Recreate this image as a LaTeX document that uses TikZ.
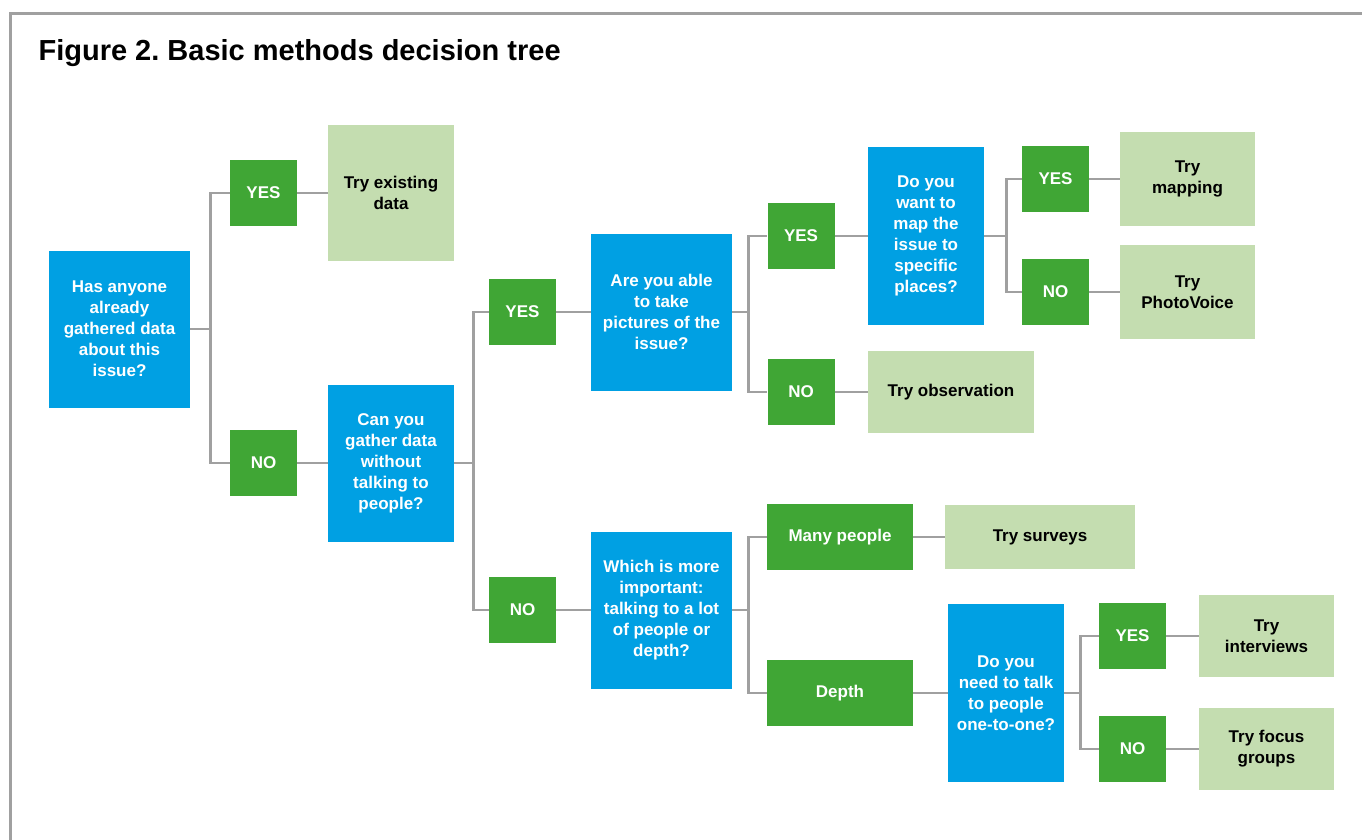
\documentclass[tikz,border=0pt]{standalone}
\usepackage{fontspec}
\setmainfont{Liberation Sans}
\usetikzlibrary{calc}
\frenchspacing

\definecolor{qblue}{RGB}{0,160,227}
\definecolor{ansgreen}{RGB}{64,166,53}
\definecolor{trygreen}{RGB}{196,221,176}
\definecolor{linkgray}{RGB}{160,160,160}

\begin{document}
\begin{tikzpicture}[x=1pt,y=-1pt,
  box/.style={inner sep=0pt,align=center,font=\fontsize{17}{21}\selectfont\bfseries},
  quest/.style={box,fill=qblue,text=white,minimum height=157pt},
  ans/.style={box,fill=ansgreen,text=white,minimum width=67pt,minimum height=66pt},
  try/.style={box,fill=trygreen,text=black},
  link/.style={draw=linkgray,line width=2.6pt},
  frame/.style={draw=linkgray,line width=3pt}]
\useasboundingbox (0,0) rectangle (1362,840);
\draw[frame] (10.5,840) |- (1362,13.5);
\node[anchor=base west,font=\fontsize{29}{35}\selectfont\bfseries] (title) at (35,61) {Figure 2. Basic methods decision tree};

% first question
\node[quest,minimum width=141pt] (has) at (119.5,329) {Has anyone\\already\\gathered data\\about this\\issue?};
\node[ans] (yes1) at (263.5,193) {YES};
\node[ans] (no1) at (263.5,463) {NO};
\node[try,minimum width=126pt,minimum height=135pt] (existing) at (391,193) {Try existing\\data};
\node[quest,minimum width=126pt] (can) at (391,463) {Can you\\gather data\\without\\talking to\\people?};

% second level
\node[ans] (yes2) at (522.5,312) {YES};
\node[ans] (no2) at (522.5,610) {NO};
\node[quest,minimum width=141pt] (pics) at (661.5,312) {Are you able\\to take\\pictures of the\\issue?};
\node[quest,minimum width=141pt] (which) at (661.5,610) {Which is more\\important:\\talking to a lot\\of people or\\depth?};

% pictures branch
\node[ans] (yes3) at (801,236) {YES};
\node[ans] (no3) at (801,392) {NO};
\node[quest,minimum width=116pt,minimum height=178pt] (map) at (926,236) {Do you\\want to\\map the\\issue to\\specific\\places?};
\node[try,minimum width=166pt,minimum height=82pt] (observation) at (951,392) {Try observation};
\node[ans] (yes4) at (1055.5,179) {YES};
\node[ans] (no4) at (1055.5,292) {NO};
\node[try,minimum width=135pt,minimum height=94pt] (mapping) at (1187.5,179) {Try\\mapping};
\node[try,minimum width=135pt,minimum height=94pt] (photovoice) at (1187.5,292) {Try\\PhotoVoice};

% people branch
\node[ans,minimum width=146pt] (many) at (840,537) {Many people};
\node[ans,minimum width=146pt] (depth) at (840,693) {Depth};
\node[try,minimum width=190pt,minimum height=64pt] (surveys) at (1040,537) {Try surveys};
\node[quest,minimum width=116pt,minimum height=178pt] (talk) at (1006,693) {Do you\\need to talk\\to people\\one-to-one?};
\node[ans] (yes5) at (1132.5,636) {YES};
\node[ans] (no5) at (1132.5,749) {NO};
\node[try,minimum width=135pt,minimum height=82pt] (interviews) at (1266.5,636) {Try\\interviews};
\node[try,minimum width=135pt,minimum height=82pt] (focus) at (1266.5,749) {Try focus\\groups};

% connectors
\draw[link] (has.east) -- ++(20,0) |- (yes1.west);
\draw[link] (has.east) -- ++(20,0) |- (no1.west);
\draw[link] (yes1) -- (existing);
\draw[link] (no1) -- (can);
\draw[link] (can.east) -- ++(19,0) |- (yes2.west);
\draw[link] (can.east) -- ++(19,0) |- (no2.west);
\draw[link] (yes2) -- (pics);
\draw[link] (no2) -- (which);
\draw[link] (pics.east) -- ++(16,0) |- (yes3.west);
\draw[link] (pics.east) -- ++(16,0) |- (no3.west);
\draw[link] (yes3) -- (map);
\draw[link] (no3) -- (observation);
\draw[link] (map.east) -- ++(22,0) |- (yes4.west);
\draw[link] (map.east) -- ++(22,0) |- (no4.west);
\draw[link] (yes4) -- (mapping);
\draw[link] (no4) -- (photovoice);
\draw[link] (which.east) -- ++(16,0) |- (many.west);
\draw[link] (which.east) -- ++(16,0) |- (depth.west);
\draw[link] (many) -- (surveys);
\draw[link] (depth) -- (talk);
\draw[link] (talk.east) -- ++(16,0) |- (yes5.west);
\draw[link] (talk.east) -- ++(16,0) |- (no5.west);
\draw[link] (yes5) -- (interviews);
\draw[link] (no5) -- (focus);
\end{tikzpicture}
\end{document}
